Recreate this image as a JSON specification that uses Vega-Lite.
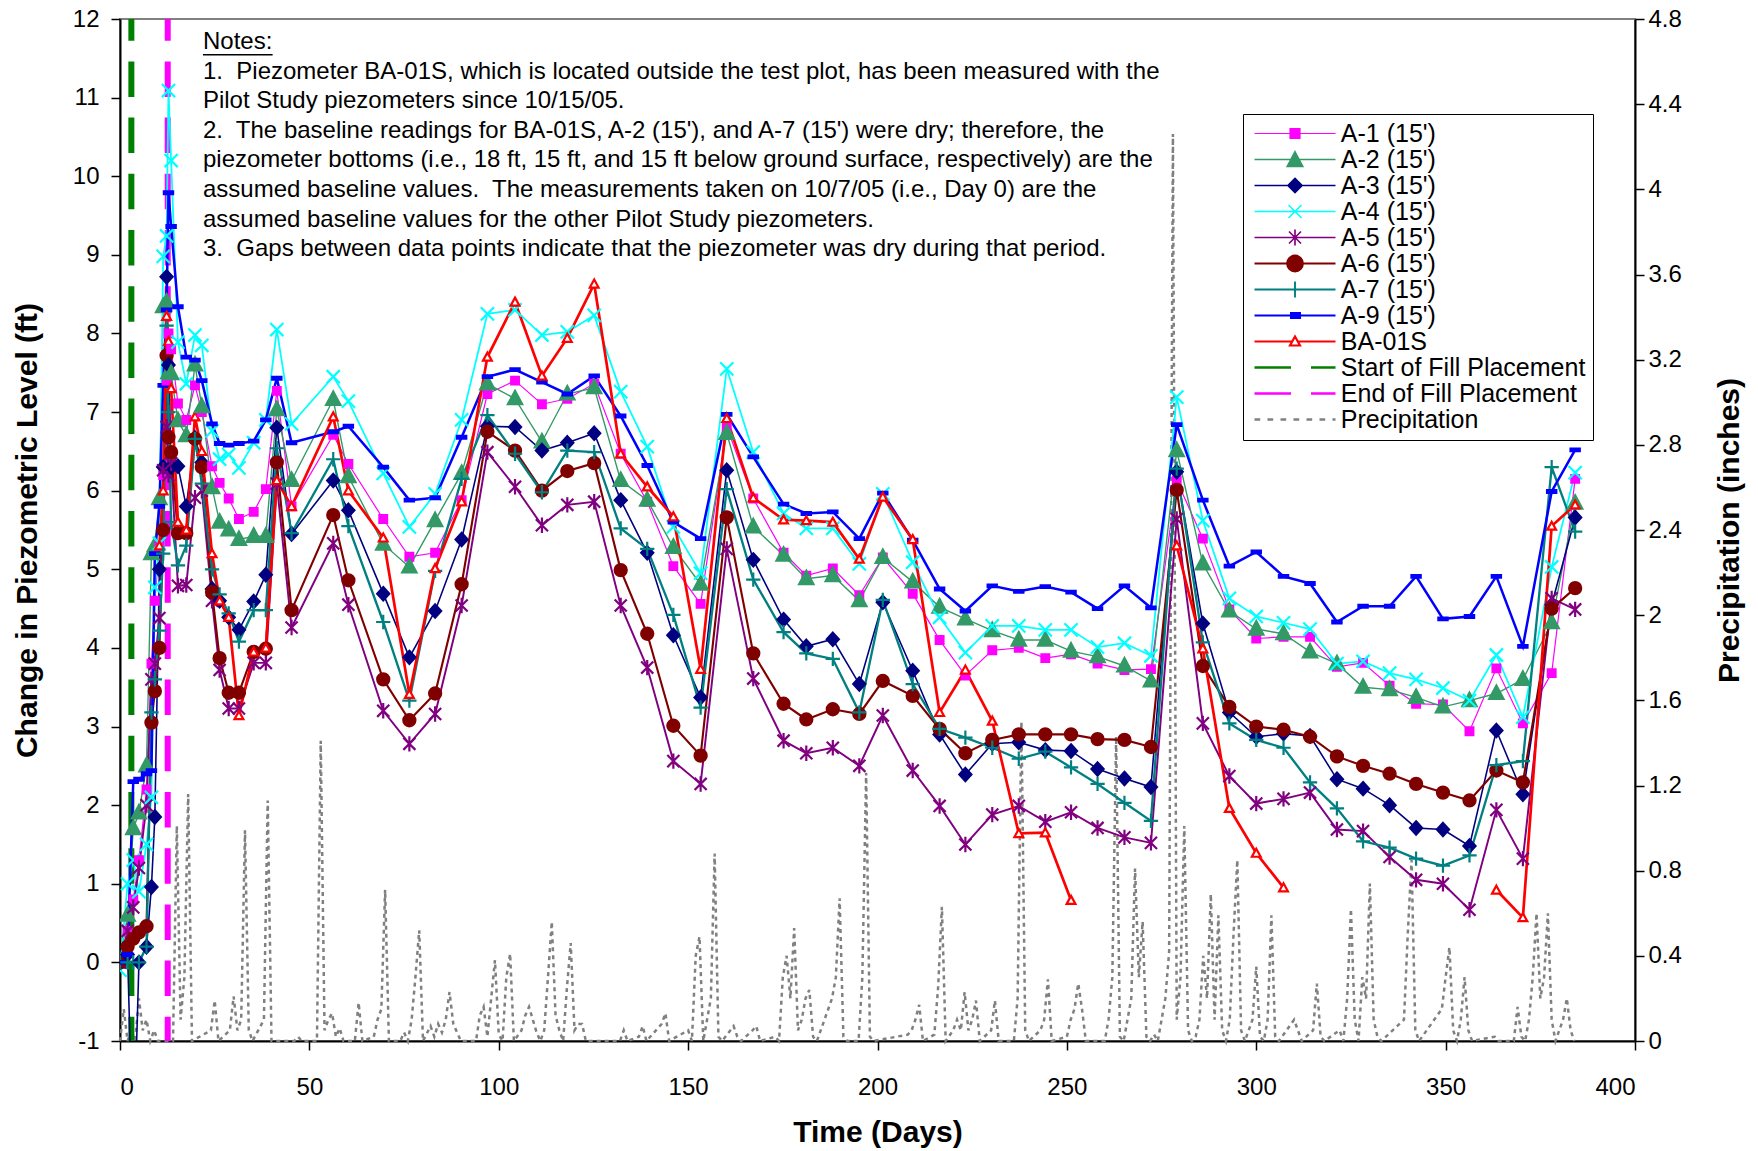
{
  "$schema": "https://vega.github.io/schema/vega-lite/v6.json",
  "width": 1515,
  "height": 1022,
  "autosize": {"type": "none"},
  "padding": {"left": 120, "top": 19, "right": 123, "bottom": 110},
  "background": "white",
  "config": {
    "font": "Liberation Sans",
    "view": {"stroke": "#808080", "strokeWidth": 2},
    "axis": {
      "grid": false, "domainColor": "#000000", "tickColor": "#000000", "labelColor": "#000000", "titleColor": "#000000",
      "labelFont": "Liberation Sans", "titleFont": "Liberation Sans", "labelFontSize": 24, "titleFontSize": 30,
      "titleFontWeight": "bold", "tickSize": 9, "domainWidth": 2, "tickWidth": 1.5
    }
  },
  "datasets": {
    "piezo": [
      {"day":0,"A1":0,"A2":0,"A3":0,"A4":-0.1,"A5":0,"A6":0,"A7":0,"A9":0,"BA":null},
      {"day":2,"A1":0.4,"A2":0.6,"A3":0.1,"A4":1.0,"A5":0.4,"A6":0.2,"A7":0,"A9":0.1,"BA":null},
      {"day":3.5,"A1":0.8,"A2":1.7,"A3":-2.5,"A4":1.3,"A5":0.7,"A6":0.3,"A7":0,"A9":2.3,"BA":null},
      {"day":5,"A1":1.3,"A2":1.9,"A3":0.0,"A4":0.9,"A5":1.2,"A6":0.38,"A7":0,"A9":2.33,"BA":null},
      {"day":7,"A1":2.2,"A2":2.5,"A3":0.2,"A4":1.5,"A5":2.0,"A6":0.46,"A7":0.2,"A9":2.4,"BA":null},
      {"day":8.3,"A1":3.8,"A2":5.2,"A3":0.96,"A4":2.1,"A5":3.6,"A6":3.05,"A7":3.18,"A9":2.44,"BA":null},
      {"day":9.2,"A1":4.6,"A2":5.3,"A3":1.85,"A4":4.77,"A5":3.8,"A6":3.45,"A7":3.6,"A9":5.2,"BA":null},
      {"day":10.4,"A1":5.3,"A2":5.9,"A3":5.0,"A4":5.33,"A5":4.38,"A6":4.0,"A7":4.22,"A9":5.8,"BA":5.3},
      {"day":11.4,"A1":6.2,"A2":8.34,"A3":6.3,"A4":8.98,"A5":6.26,"A6":5.5,"A7":5.2,"A9":7.34,"BA":6.0},
      {"day":12.3,"A1":7.4,"A2":8.4,"A3":8.72,"A4":9.24,"A5":6.81,"A6":7.72,"A7":8.1,"A9":8.3,"BA":8.22},
      {"day":12.8,"A1":8.0,"A2":7.5,"A3":7.6,"A4":11.09,"A5":6.2,"A6":6.68,"A7":7.0,"A9":9.79,"BA":7.9},
      {"day":13.5,"A1":7.8,"A2":7.49,"A3":6.3,"A4":10.2,"A5":6.35,"A6":6.49,"A7":5.6,"A9":9.36,"BA":7.3},
      {"day":15.3,"A1":7.11,"A2":6.89,"A3":6.31,"A4":7.89,"A5":4.79,"A6":5.46,"A7":5.05,"A9":8.34,"BA":5.6},
      {"day":17.5,"A1":6.9,"A2":6.7,"A3":5.8,"A4":7.36,"A5":4.8,"A6":5.46,"A7":5.3,"A9":7.7,"BA":5.5},
      {"day":19.8,"A1":7.34,"A2":7.6,"A3":6.67,"A4":7.98,"A5":5.91,"A6":6.66,"A7":6.66,"A9":7.66,"BA":6.94},
      {"day":21.6,"A1":7.0,"A2":7.07,"A3":6.36,"A4":7.85,"A5":6.0,"A6":6.3,"A7":6.09,"A9":7.4,"BA":6.5},
      {"day":24.3,"A1":6.31,"A2":6.04,"A3":4.75,"A4":6.76,"A5":4.6,"A6":4.71,"A7":5.0,"A9":6.85,"BA":5.2},
      {"day":26.3,"A1":6.1,"A2":5.6,"A3":4.6,"A4":6.4,"A5":3.72,"A6":3.87,"A7":4.68,"A9":6.6,"BA":4.6},
      {"day":28.7,"A1":5.9,"A2":5.5,"A3":4.39,"A4":6.46,"A5":3.23,"A6":3.43,"A7":4.44,"A9":6.58,"BA":4.39},
      {"day":31.4,"A1":5.64,"A2":5.38,"A3":4.23,"A4":6.29,"A5":3.23,"A6":3.43,"A7":4.08,"A9":6.6,"BA":3.14},
      {"day":35.3,"A1":5.73,"A2":5.42,"A3":4.59,"A4":6.61,"A5":3.81,"A6":3.95,"A7":4.48,"A9":6.63,"BA":3.95},
      {"day":38.5,"A1":6.02,"A2":5.42,"A3":4.93,"A4":6.9,"A5":3.81,"A6":3.99,"A7":4.48,"A9":6.9,"BA":4.0},
      {"day":41.4,"A1":7.27,"A2":7.03,"A3":6.8,"A4":8.05,"A5":6.09,"A6":6.36,"A7":6.54,"A9":7.43,"BA":6.13},
      {"day":45.3,"A1":5.8,"A2":6.13,"A3":5.45,"A4":6.85,"A5":4.26,"A6":4.48,"A7":5.46,"A9":6.61,"BA":5.8},
      {"day":56.3,"A1":6.71,"A2":7.16,"A3":6.13,"A4":7.45,"A5":5.33,"A6":5.69,"A7":6.4,"A9":6.75,"BA":6.94},
      {"day":60.3,"A1":6.34,"A2":6.18,"A3":5.75,"A4":7.14,"A5":4.55,"A6":4.86,"A7":5.55,"A9":6.82,"BA":6.0},
      {"day":69.5,"A1":5.64,"A2":5.32,"A3":4.69,"A4":6.22,"A5":3.2,"A6":3.6,"A7":4.33,"A9":6.3,"BA":5.4},
      {"day":76.4,"A1":5.16,"A2":5.03,"A3":3.88,"A4":5.54,"A5":2.78,"A6":3.08,"A7":3.33,"A9":5.88,"BA":3.41},
      {"day":83.2,"A1":5.21,"A2":5.62,"A3":4.47,"A4":5.96,"A5":3.16,"A6":3.42,"A7":4.98,"A9":5.91,"BA":5.01},
      {"day":90.2,"A1":5.88,"A2":6.22,"A3":5.38,"A4":6.9,"A5":4.54,"A6":4.81,"A7":6.15,"A9":6.68,"BA":5.86},
      {"day":97,"A1":7.23,"A2":7.36,"A3":6.82,"A4":8.25,"A5":6.49,"A6":6.75,"A7":6.96,"A9":7.45,"BA":7.7},
      {"day":104.3,"A1":7.4,"A2":7.17,"A3":6.81,"A4":8.3,"A5":6.05,"A6":6.51,"A7":6.47,"A9":7.54,"BA":8.4},
      {"day":111.4,"A1":7.1,"A2":6.62,"A3":6.51,"A4":7.98,"A5":5.56,"A6":6.0,"A7":5.98,"A9":7.38,"BA":7.46},
      {"day":118.1,"A1":7.17,"A2":7.23,"A3":6.61,"A4":8.02,"A5":5.82,"A6":6.25,"A7":6.51,"A9":7.23,"BA":7.94},
      {"day":125.2,"A1":7.36,"A2":7.31,"A3":6.73,"A4":8.23,"A5":5.86,"A6":6.35,"A7":6.49,"A9":7.46,"BA":8.63},
      {"day":132.2,"A1":6.47,"A2":6.13,"A3":5.88,"A4":7.26,"A5":4.54,"A6":4.99,"A7":5.52,"A9":6.95,"BA":6.47},
      {"day":139.2,"A1":5.86,"A2":5.88,"A3":5.21,"A4":6.56,"A5":3.75,"A6":4.18,"A7":5.26,"A9":6.32,"BA":6.05},
      {"day":146.1,"A1":5.04,"A2":5.28,"A3":4.16,"A4":5.54,"A5":2.56,"A6":3.01,"A7":4.42,"A9":5.6,"BA":5.67},
      {"day":153.3,"A1":4.56,"A2":4.81,"A3":3.37,"A4":4.95,"A5":2.27,"A6":2.63,"A7":3.24,"A9":5.39,"BA":3.73},
      {"day":160.2,"A1":6.81,"A2":6.73,"A3":6.26,"A4":7.55,"A5":5.26,"A6":5.66,"A7":6.02,"A9":6.97,"BA":6.92},
      {"day":167.2,"A1":5.9,"A2":5.54,"A3":5.12,"A4":6.49,"A5":3.61,"A6":3.93,"A7":4.87,"A9":6.43,"BA":5.91},
      {"day":175.2,"A1":5.21,"A2":5.18,"A3":4.36,"A4":5.71,"A5":2.82,"A6":3.29,"A7":4.2,"A9":5.83,"BA":5.63},
      {"day":181.2,"A1":4.92,"A2":4.88,"A3":4.02,"A4":5.52,"A5":2.66,"A6":3.09,"A7":3.93,"A9":5.71,"BA":5.62},
      {"day":188.2,"A1":5.01,"A2":4.92,"A3":4.11,"A4":5.52,"A5":2.73,"A6":3.22,"A7":3.86,"A9":5.73,"BA":5.6},
      {"day":195.2,"A1":4.67,"A2":4.6,"A3":3.54,"A4":5.07,"A5":2.5,"A6":3.16,"A7":3.18,"A9":5.39,"BA":5.13},
      {"day":201.4,"A1":5.15,"A2":5.15,"A3":4.58,"A4":5.96,"A5":3.14,"A6":3.58,"A7":4.61,"A9":5.97,"BA":5.92},
      {"day":209.3,"A1":4.69,"A2":4.84,"A3":3.71,"A4":5.09,"A5":2.44,"A6":3.39,"A7":3.54,"A9":5.37,"BA":5.38},
      {"day":216.4,"A1":4.1,"A2":4.52,"A3":2.9,"A4":4.39,"A5":1.99,"A6":2.97,"A7":2.97,"A9":4.75,"BA":3.18},
      {"day":223.2,"A1":3.65,"A2":4.37,"A3":2.39,"A4":3.94,"A5":1.5,"A6":2.66,"A7":2.86,"A9":4.47,"BA":3.72},
      {"day":230.3,"A1":3.97,"A2":4.22,"A3":2.78,"A4":4.28,"A5":1.88,"A6":2.83,"A7":2.73,"A9":4.79,"BA":3.07},
      {"day":237.3,"A1":4.0,"A2":4.1,"A3":2.8,"A4":4.28,"A5":1.99,"A6":2.9,"A7":2.59,"A9":4.72,"BA":1.64},
      {"day":244.3,"A1":3.87,"A2":4.1,"A3":2.7,"A4":4.23,"A5":1.79,"A6":2.9,"A7":2.68,"A9":4.78,"BA":1.65},
      {"day":251.1,"A1":3.92,"A2":3.96,"A3":2.69,"A4":4.23,"A5":1.91,"A6":2.9,"A7":2.48,"A9":4.71,"BA":0.79},
      {"day":258.1,"A1":3.8,"A2":3.89,"A3":2.46,"A4":4.01,"A5":1.71,"A6":2.84,"A7":2.27,"A9":4.5,"BA":null},
      {"day":265.2,"A1":3.72,"A2":3.77,"A3":2.34,"A4":4.06,"A5":1.59,"A6":2.83,"A7":2.03,"A9":4.79,"BA":null},
      {"day":272.2,"A1":3.73,"A2":3.58,"A3":2.23,"A4":3.9,"A5":1.52,"A6":2.74,"A7":1.8,"A9":4.51,"BA":null},
      {"day":279,"A1":6.13,"A2":6.51,"A3":6.24,"A4":7.19,"A5":5.64,"A6":6.01,"A7":6.28,"A9":6.84,"BA":5.3},
      {"day":285.9,"A1":5.39,"A2":5.07,"A3":4.31,"A4":5.62,"A5":3.04,"A6":3.77,"A7":4.07,"A9":5.88,"BA":3.99},
      {"day":292.9,"A1":4.49,"A2":4.47,"A3":3.18,"A4":4.63,"A5":2.37,"A6":3.25,"A7":3.04,"A9":5.04,"BA":1.96},
      {"day":300,"A1":4.12,"A2":4.24,"A3":2.87,"A4":4.4,"A5":2.02,"A6":3.0,"A7":2.83,"A9":5.22,"BA":1.39},
      {"day":307.2,"A1":4.14,"A2":4.18,"A3":2.91,"A4":4.32,"A5":2.08,"A6":2.96,"A7":2.73,"A9":4.91,"BA":0.95},
      {"day":314.2,"A1":4.14,"A2":3.95,"A3":2.88,"A4":4.24,"A5":2.16,"A6":2.87,"A7":2.29,"A9":4.82,"BA":null},
      {"day":321.3,"A1":3.76,"A2":3.8,"A3":2.33,"A4":3.8,"A5":1.69,"A6":2.62,"A7":1.96,"A9":4.33,"BA":null},
      {"day":328.2,"A1":3.81,"A2":3.5,"A3":2.21,"A4":3.83,"A5":1.67,"A6":2.5,"A7":1.54,"A9":4.53,"BA":null},
      {"day":335.2,"A1":3.52,"A2":3.47,"A3":2.0,"A4":3.68,"A5":1.34,"A6":2.4,"A7":1.46,"A9":4.53,"BA":null},
      {"day":342.2,"A1":3.29,"A2":3.37,"A3":1.71,"A4":3.6,"A5":1.05,"A6":2.27,"A7":1.32,"A9":4.91,"BA":null},
      {"day":349.3,"A1":3.28,"A2":3.25,"A3":1.69,"A4":3.49,"A5":1.0,"A6":2.16,"A7":1.23,"A9":4.37,"BA":null},
      {"day":356.3,"A1":2.94,"A2":3.33,"A3":1.48,"A4":3.33,"A5":0.67,"A6":2.06,"A7":1.36,"A9":4.4,"BA":null},
      {"day":363.4,"A1":3.74,"A2":3.42,"A3":2.95,"A4":3.91,"A5":1.94,"A6":2.44,"A7":2.51,"A9":4.91,"BA":0.92},
      {"day":370.4,"A1":3.04,"A2":3.6,"A3":2.14,"A4":3.12,"A5":1.32,"A6":2.29,"A7":2.56,"A9":4.02,"BA":0.57},
      {"day":378,"A1":3.68,"A2":4.32,"A3":4.55,"A4":5.03,"A5":4.63,"A6":4.5,"A7":6.3,"A9":5.99,"BA":5.55},
      {"day":384.2,"A1":6.15,"A2":5.84,"A3":5.66,"A4":6.23,"A5":4.49,"A6":4.76,"A7":5.48,"A9":6.52,"BA":5.82}
    ],
    "precip": [
      {"day":0,"precip":0},{"day":1,"precip":0.15},{"day":2,"precip":0},{"day":3,"precip":0.05},{"day":4,"precip":0},{"day":5,"precip":0.2},{"day":6,"precip":0.05},{"day":7,"precip":0.1},{"day":8,"precip":0},{"day":9,"precip":0.05},{"day":10,"precip":0},
      {"day":14,"precip":0},{"day":15,"precip":1.01},{"day":16,"precip":0.1},{"day":17,"precip":0.3},{"day":18,"precip":1.16},{"day":19,"precip":0},
      {"day":24,"precip":0.05},{"day":25,"precip":0.19},{"day":26,"precip":0},{"day":29,"precip":0.05},{"day":30,"precip":0.21},{"day":31,"precip":0.05},{"day":32,"precip":0.1},{"day":33,"precip":0.99},{"day":34,"precip":0.05},{"day":35,"precip":0},
      {"day":38,"precip":0.1},{"day":39,"precip":1.13},{"day":40,"precip":0},{"day":46,"precip":0},{"day":47,"precip":0.02},{"day":48,"precip":0},{"day":52,"precip":0},{"day":53,"precip":1.41},{"day":54,"precip":0.05},{"day":55,"precip":0.1},{"day":56,"precip":0.13},{"day":57,"precip":0.02},{"day":58,"precip":0.06},{"day":59,"precip":0},
      {"day":62,"precip":0},{"day":63,"precip":0.18},{"day":64,"precip":0},{"day":67,"precip":0.02},{"day":68,"precip":0.1},{"day":69,"precip":0.15},{"day":70,"precip":0.71},{"day":71,"precip":0},
      {"day":74,"precip":0},{"day":75,"precip":0.04},{"day":76,"precip":0},{"day":77,"precip":0.1},{"day":78,"precip":0.3},{"day":79,"precip":0.52},{"day":80,"precip":0},
      {"day":82,"precip":0.07},{"day":83,"precip":0.02},{"day":84,"precip":0.08},{"day":85,"precip":0.04},{"day":86,"precip":0.1},{"day":87,"precip":0.23},{"day":88,"precip":0.08},{"day":89,"precip":0.04},{"day":90,"precip":0},
      {"day":94,"precip":0},{"day":95,"precip":0.12},{"day":96,"precip":0.16},{"day":97,"precip":0.02},{"day":98,"precip":0.2},{"day":99,"precip":0.38},{"day":100,"precip":0.03},{"day":101,"precip":0},{"day":102,"precip":0.3},{"day":103,"precip":0.41},{"day":104,"precip":0},
      {"day":106,"precip":0.05},{"day":107,"precip":0.12},{"day":108,"precip":0.16},{"day":109,"precip":0.1},{"day":110,"precip":0.04},{"day":111,"precip":0},{"day":112,"precip":0.05},{"day":113,"precip":0.3},{"day":114,"precip":0.56},{"day":115,"precip":0.12},{"day":116,"precip":0.05},{"day":117,"precip":0},
      {"day":118,"precip":0.25},{"day":119,"precip":0.46},{"day":120,"precip":0.05},{"day":121,"precip":0.08},{"day":122,"precip":0.08},{"day":123,"precip":0},
      {"day":132,"precip":0},{"day":133,"precip":0.05},{"day":134,"precip":0},{"day":137,"precip":0.02},{"day":138,"precip":0.07},{"day":139,"precip":0},{"day":143,"precip":0.08},{"day":144,"precip":0.13},{"day":145,"precip":0},
      {"day":150,"precip":0.05},{"day":151,"precip":0},{"day":152,"precip":0.4},{"day":153,"precip":0.49},{"day":154,"precip":0},{"day":156,"precip":0.2},{"day":157,"precip":0.88},{"day":158,"precip":0.02},{"day":159,"precip":0},
      {"day":162,"precip":0.07},{"day":163,"precip":0.02},{"day":164,"precip":0},{"day":167,"precip":0.05},{"day":168,"precip":0.07},{"day":169,"precip":0},
      {"day":173,"precip":0.02},{"day":174,"precip":0},{"day":175,"precip":0.3},{"day":176,"precip":0.4},{"day":177,"precip":0.2},{"day":178,"precip":0.53},{"day":179,"precip":0.05},{"day":180,"precip":0.1},{"day":181,"precip":0.2},{"day":182,"precip":0.24},{"day":183,"precip":0.02},{"day":184,"precip":0},
      {"day":188,"precip":0.2},{"day":189,"precip":0.3},{"day":190,"precip":0.67},{"day":191,"precip":0.02},{"day":192,"precip":0},{"day":195,"precip":0},{"day":196,"precip":0.3},{"day":197,"precip":1.26},{"day":198,"precip":0.02},{"day":199,"precip":0},
      {"day":208,"precip":0.03},{"day":209,"precip":0.05},{"day":210,"precip":0.1},{"day":211,"precip":0.17},{"day":212,"precip":0},{"day":215,"precip":0.03},{"day":216,"precip":0.25},{"day":217,"precip":0.63},{"day":218,"precip":0},
      {"day":220,"precip":0.05},{"day":221,"precip":0.1},{"day":222,"precip":0.05},{"day":223,"precip":0.23},{"day":224,"precip":0.05},{"day":225,"precip":0.1},{"day":226,"precip":0.19},{"day":227,"precip":0},
      {"day":230,"precip":0.05},{"day":231,"precip":0.19},{"day":232,"precip":0},{"day":236,"precip":0},{"day":237,"precip":0.2},{"day":238,"precip":1.5},{"day":239,"precip":0.05},{"day":240,"precip":0},
      {"day":243,"precip":0.05},{"day":244,"precip":0.1},{"day":245,"precip":0.29},{"day":246,"precip":0},{"day":250,"precip":0.02},{"day":251,"precip":0.1},{"day":252,"precip":0.15},{"day":253,"precip":0.27},{"day":254,"precip":0.15},{"day":255,"precip":0},
      {"day":260,"precip":0},{"day":261,"precip":0.1},{"day":262,"precip":0.3},{"day":263,"precip":1.43},{"day":264,"precip":0.02},{"day":265,"precip":0},{"day":266,"precip":0.1},{"day":267,"precip":0.2},{"day":268,"precip":0.81},{"day":269,"precip":0.3},{"day":270,"precip":0.56},{"day":271,"precip":0.02},{"day":272,"precip":0},
      {"day":273,"precip":0.03},{"day":274,"precip":0},{"day":275,"precip":0.1},{"day":276,"precip":0.2},{"day":277,"precip":0.42},{"day":278,"precip":4.26},{"day":279,"precip":0.1},{"day":280,"precip":0.3},{"day":281,"precip":1.01},{"day":282,"precip":0.05},{"day":283,"precip":0},
      {"day":284,"precip":0.02},{"day":285,"precip":0.1},{"day":286,"precip":0.4},{"day":287,"precip":0.2},{"day":288,"precip":0.69},{"day":289,"precip":0.1},{"day":290,"precip":0.59},{"day":291,"precip":0.05},{"day":292,"precip":0},
      {"day":293,"precip":0.1},{"day":294,"precip":0.5},{"day":295,"precip":0.85},{"day":296,"precip":0.05},{"day":297,"precip":0},{"day":299,"precip":0.1},{"day":300,"precip":0.35},{"day":301,"precip":0.02},{"day":302,"precip":0},
      {"day":303,"precip":0.1},{"day":304,"precip":0.59},{"day":305,"precip":0.02},{"day":306,"precip":0},{"day":310,"precip":0.1},{"day":311,"precip":0.05},{"day":312,"precip":0},{"day":315,"precip":0.05},{"day":316,"precip":0.27},{"day":317,"precip":0.02},{"day":318,"precip":0},
      {"day":322,"precip":0.05},{"day":323,"precip":0},{"day":324,"precip":0.2},{"day":325,"precip":0.62},{"day":326,"precip":0.1},{"day":327,"precip":0},{"day":328,"precip":0.3},{"day":329,"precip":0.2},{"day":330,"precip":0.74},{"day":331,"precip":0.1},{"day":332,"precip":0.02},{"day":333,"precip":0},
      {"day":339,"precip":0.1},{"day":340,"precip":0.5},{"day":341,"precip":0.85},{"day":342,"precip":0.05},{"day":343,"precip":0},{"day":349,"precip":0.15},{"day":350,"precip":0.3},{"day":351,"precip":0.44},{"day":352,"precip":0.05},{"day":353,"precip":0},
      {"day":354,"precip":0.1},{"day":355,"precip":0.3},{"day":356,"precip":0.05},{"day":357,"precip":0},{"day":363,"precip":0.02},{"day":364,"precip":0},{"day":368,"precip":0},{"day":369,"precip":0.16},{"day":370,"precip":0.02},{"day":371,"precip":0},
      {"day":372,"precip":0.1},{"day":373,"precip":0.3},{"day":374,"precip":0.6},{"day":375,"precip":0.2},{"day":376,"precip":0.3},{"day":377,"precip":0.6},{"day":378,"precip":0.1},{"day":379,"precip":0},{"day":380,"precip":0.05},{"day":381,"precip":0.1},{"day":382,"precip":0.2},{"day":383,"precip":0.05},{"day":384,"precip":0}
    ],
    "legendkeys": [
      {"key": "A-1 (15')"}, {"key": "A-2 (15')"}, {"key": "A-3 (15')"}, {"key": "A-4 (15')"}, {"key": "A-5 (15')"}, {"key": "A-6 (15')"},
      {"key": "A-7 (15')"}, {"key": "A-9 (15')"}, {"key": "BA-01S"}, {"key": "Start of Fill Placement"}, {"key": "End of Fill Placement"}, {"key": "Precipitation"}
    ]
  },
  "layer": [
    {
      "data": {"name": "precip"},
      "mark": {"type": "line", "color": "#808080", "strokeWidth": 2.5, "strokeDash": [4, 4]},
      "encoding": {
        "x": {"field": "day", "type": "quantitative", "scale": {"domain": [0, 400], "nice": false},
          "axis": {"values": [0, 50, 100, 150, 200, 250, 300, 350, 400], "format": "d", "title": "Time (Days)", "labelPadding": 25, "titlePadding": 18}},
        "y": {"field": "precip", "type": "quantitative", "scale": {"domain": [0, 4.8], "nice": false},
          "axis": {"orient": "right", "values": [0, 0.4, 0.8, 1.2, 1.6, 2, 2.4, 2.8, 3.2, 3.6, 4, 4.4, 4.8], "format": ".1~f",
            "title": "Precipitation (inches)", "labelPadding": 4, "titlePadding": 33, "titleAngle": 270, "titleBaseline": "top"}}
      }
    },
    {
      "layer": [
        {
          "data": {"values": [{}]},
          "mark": {"type": "rule", "color": "#008000", "strokeWidth": 6, "strokeDash": [35.5, 20.7], "strokeDashOffset": 13.8},
          "encoding": {"x": {"datum": 3, "type": "quantitative", "scale": {"domain": [0, 400], "nice": false},
            "axis": {"values": [0, 50, 100, 150, 200, 250, 300, 350, 400], "format": "d", "title": "Time (Days)", "labelPadding": 25, "titlePadding": 18}}}
        },
        {
          "data": {"values": [{}]},
          "mark": {"type": "rule", "color": "#FF00FF", "strokeWidth": 6, "strokeDash": [35.5, 20.7], "strokeDashOffset": 13.8},
          "encoding": {"x": {"datum": 12.6, "type": "quantitative", "scale": {"domain": [0, 400], "nice": false},
            "axis": {"values": [0, 50, 100, 150, 200, 250, 300, 350, 400], "format": "d", "title": "Time (Days)", "labelPadding": 25, "titlePadding": 18}}}
        },
        {
          "data": {"name": "piezo"},
          "transform": [{"fold": ["A1", "A2", "A3", "A4", "A5", "A6", "A7", "A9", "BA"], "as": ["series", "level"]}],
          "mark": {"type": "line", "invalid": "break-paths-show-domains", "clip": true},
          "encoding": {
            "x": {"field": "day", "type": "quantitative", "scale": {"domain": [0, 400], "nice": false},
              "axis": {"values": [0, 50, 100, 150, 200, 250, 300, 350, 400], "format": "d", "title": "Time (Days)", "labelPadding": 25, "titlePadding": 18}},
            "y": {"field": "level", "type": "quantitative", "scale": {"domain": [-1, 12], "nice": false},
              "axis": {"values": [-1, 0, 1, 2, 3, 4, 5, 6, 7, 8, 9, 10, 11, 12], "labelExpr": "'' + datum.value", "title": "Change in Piezometric Level (ft)", "labelPadding": 12, "titlePadding": 30}},
            "stroke": {"field": "series", "type": "nominal",
              "scale": {"domain": ["A1", "A2", "A3", "A4", "A5", "A6", "A7", "A9", "BA"],
                "range": ["#FF00FF", "#339966", "#000080", "#00FFFF", "#800080", "#800000", "#008080", "#0000FF", "#FF0000"]}, "legend": null},
            "strokeWidth": {"field": "series", "type": "ordinal",
              "scale": {"domain": ["A1", "A2", "A3", "A4", "A5", "A6", "A7", "A9", "BA"], "range": [1.2, 2.7, 2.7, 2.8, 2.5, 2.8, 2.4, 2.8, 2.4]}, "legend": null}
          }
        },
        {
          "data": {"name": "piezo"},
          "transform": [{"fold": ["A1", "A2", "A3", "A4", "A5", "A6", "A7", "A9", "BA"], "as": ["series", "level"]}],
          "mark": {"type": "point", "strokeWidth": 2.2, "opacity": 1, "size": 484, "clip": true},
          "encoding": {
            "x": {"field": "day", "type": "quantitative", "scale": {"domain": [0, 400], "nice": false},
              "axis": {"values": [0, 50, 100, 150, 200, 250, 300, 350, 400], "format": "d", "title": "Time (Days)", "labelPadding": 25, "titlePadding": 18}},
            "y": {"field": "level", "type": "quantitative", "scale": {"domain": [-1, 12], "nice": false},
              "axis": {"values": [-1, 0, 1, 2, 3, 4, 5, 6, 7, 8, 9, 10, 11, 12], "labelExpr": "'' + datum.value", "title": "Change in Piezometric Level (ft)", "labelPadding": 12, "titlePadding": 30}},
            "stroke": {"field": "series", "type": "nominal",
              "scale": {"domain": ["A1", "A2", "A3", "A4", "A5", "A6", "A7", "A9", "BA"],
                "range": ["#FF00FF", "#339966", "#000080", "#00FFFF", "#800080", "#800000", "#008080", "#0000FF", "#FF0000"]}, "legend": null},
            "fill": {"field": "series", "type": "nominal",
              "scale": {"domain": ["A1", "A2", "A3", "A4", "A5", "A6", "A7", "A9", "BA"],
                "range": ["#FF00FF", "#339966", "#000080", "transparent", "transparent", "#800000", "transparent", "#0000FF", "#FFFFFF"]}, "legend": null},
            "shape": {"field": "series", "type": "nominal",
              "scale": {"domain": ["A1", "A2", "A3", "A4", "A5", "A6", "A7", "A9", "BA"],
                "range": [
                  "M-0.35,-0.35H0.35V0.35H-0.35Z",
                  "M0,-0.72L0.65,0.5H-0.65Z",
                  "M0,-0.6L0.55,0L0,0.6L-0.55,0Z",
                  "M-0.6,-0.6L0.6,0.6M-0.6,0.6L0.6,-0.6",
                  "M-0.55,-0.55L0.55,0.55M-0.55,0.55L0.55,-0.55M0,-0.7V0.7",
                  "M-0.55,0A0.55,0.55,0,1,0,0.55,0A0.55,0.55,0,1,0,-0.55,0Z",
                  "M-0.65,0H0.65M0,-0.65V0.65",
                  "M-0.42,-0.12H0.42V0.12H-0.42Z",
                  "M0,-0.4L0.4,0.33H-0.4Z"
                ]}, "legend": null}
          }
        },
        {
          "data": {"values": [{}]},
          "mark": {"type": "text", "align": "left", "baseline": "top", "fontSize": 24, "lineHeight": 29.6, "font": "Liberation Sans", "color": "#000000",
            "text": [
              "Notes:",
              "1.\u00a0 Piezometer BA-01S, which is located outside the test plot, has been measured with the",
              "Pilot Study piezometers since 10/15/05.",
              "2.\u00a0 The baseline readings for BA-01S, A-2 (15'), and A-7 (15') were dry; therefore, the",
              "piezometer bottoms (i.e., 18 ft, 15 ft, and 15 ft below ground surface, respectively) are the",
              "assumed baseline values.\u00a0 The measurements taken on 10/7/05 (i.e., Day 0) are the",
              "assumed baseline values for the other Pilot Study piezometers.",
              "3.\u00a0 Gaps between data points indicate that the piezometer was dry during that period."
            ]},
          "encoding": {
            "x": {"datum": 21.9, "type": "quantitative", "scale": {"domain": [0, 400], "nice": false},
              "axis": {"values": [0, 50, 100, 150, 200, 250, 300, 350, 400], "format": "d", "title": "Time (Days)", "labelPadding": 25, "titlePadding": 18}},
            "y": {"datum": 11.86, "type": "quantitative", "scale": {"domain": [-1, 12], "nice": false},
              "axis": {"values": [-1, 0, 1, 2, 3, 4, 5, 6, 7, 8, 9, 10, 11, 12], "labelExpr": "'' + datum.value", "title": "Change in Piezometric Level (ft)", "labelPadding": 12, "titlePadding": 30}}
          }
        },
        {
          "data": {"values": [{}]},
          "mark": {"type": "rule", "color": "#000000", "strokeWidth": 1.5},
          "encoding": {
            "x": {"datum": 21.9, "type": "quantitative", "scale": {"domain": [0, 400], "nice": false},
              "axis": {"values": [0, 50, 100, 150, 200, 250, 300, 350, 400], "format": "d", "title": "Time (Days)", "labelPadding": 25, "titlePadding": 18}},
            "x2": {"datum": 40.3},
            "y": {"datum": 11.545, "type": "quantitative", "scale": {"domain": [-1, 12], "nice": false},
              "axis": {"values": [-1, 0, 1, 2, 3, 4, 5, 6, 7, 8, 9, 10, 11, 12], "labelExpr": "'' + datum.value", "title": "Change in Piezometric Level (ft)", "labelPadding": 12, "titlePadding": 30}}
          }
        },
        {
          "data": {"name": "legendkeys"},
          "mark": {"type": "point", "clip": true, "opacity": 1},
          "encoding": {
            "x": {"datum": -100, "type": "quantitative", "scale": {"domain": [0, 400], "nice": false},
              "axis": {"values": [0, 50, 100, 150, 200, 250, 300, 350, 400], "format": "d", "title": "Time (Days)", "labelPadding": 25, "titlePadding": 18}},
            "y": {"datum": 0, "type": "quantitative", "scale": {"domain": [-1, 12], "nice": false},
              "axis": {"values": [-1, 0, 1, 2, 3, 4, 5, 6, 7, 8, 9, 10, 11, 12], "labelExpr": "'' + datum.value", "title": "Change in Piezometric Level (ft)", "labelPadding": 12, "titlePadding": 30}},
            "shape": {"field": "key", "type": "nominal",
              "scale": {
                "domain": ["A-1 (15')", "A-2 (15')", "A-3 (15')", "A-4 (15')", "A-5 (15')", "A-6 (15')", "A-7 (15')", "A-9 (15')", "BA-01S", "Start of Fill Placement", "End of Fill Placement", "Precipitation"],
                "range": [
                  "M-4.05,0H4.05M-0.5,-0.5H0.5V0.5H-0.5Z",
                  "M-4.05,0H4.05M0,-0.8L0.8,0.7H-0.8Z",
                  "M-4.05,0H4.05M0,-0.72L0.72,0L0,0.72L-0.72,0Z",
                  "M-4.05,0H4.05M-0.65,-0.65L0.65,0.65M-0.65,0.65L0.65,-0.65",
                  "M-4.05,0H4.05M-0.6,-0.6L0.6,0.6M-0.6,0.6L0.6,-0.6M0,-0.8V0.8",
                  "M-4.05,0H4.05M-0.8,0A0.8,0.8,0,1,0,0.8,0A0.8,0.8,0,1,0,-0.8,0Z",
                  "M-4.05,0H4.05M0,-0.8V0.8",
                  "M-4.05,0H4.05M-0.4,-0.25H0.5V0.25H-0.4Z",
                  "M-4.05,0H-0.3M0.3,0H4.05M0,-0.5L0.5,0.4H-0.5Z",
                  "M-4.05,0H-0.4M1.6,0H4.05",
                  "M-4.05,0H-0.4M1.6,0H4.05",
                  "M-4.05,0H-3.48M-2.75,0H-2.18M-1.45,0H-0.88M-0.15,0H0.42M1.15,0H1.72M2.45,0H3.02M3.75,0H4.05"
                ]},
              "legend": {"title": null, "orient": "none", "legendX": 1123, "legendY": 95, "symbolSize": 400, "labelFontSize": 25, "labelFont": "Liberation Sans", "labelColor": "#000000",
                "labelOffset": 33.3, "rowPadding": -2, "padding": 7, "symbolOffset": 32.5, "labelLimit": 400, "strokeColor": "#000000", "fillColor": "#FFFFFF", "symbolOpacity": 1}},
            "stroke": {"field": "key", "type": "nominal",
              "scale": {
                "domain": ["A-1 (15')", "A-2 (15')", "A-3 (15')", "A-4 (15')", "A-5 (15')", "A-6 (15')", "A-7 (15')", "A-9 (15')", "BA-01S", "Start of Fill Placement", "End of Fill Placement", "Precipitation"],
                "range": ["#FF00FF", "#339966", "#000080", "#00FFFF", "#800080", "#800000", "#008080", "#0000FF", "#FF0000", "#008000", "#FF00FF", "#808080"]},
              "legend": {"title": null, "orient": "none", "legendX": 1123, "legendY": 95, "symbolSize": 400, "labelFontSize": 25, "labelFont": "Liberation Sans", "labelColor": "#000000",
                "labelOffset": 33.3, "rowPadding": -2, "padding": 7, "symbolOffset": 32.5, "labelLimit": 400, "strokeColor": "#000000", "fillColor": "#FFFFFF", "symbolOpacity": 1}},
            "fill": {"field": "key", "type": "nominal",
              "scale": {
                "domain": ["A-1 (15')", "A-2 (15')", "A-3 (15')", "A-4 (15')", "A-5 (15')", "A-6 (15')", "A-7 (15')", "A-9 (15')", "BA-01S", "Start of Fill Placement", "End of Fill Placement", "Precipitation"],
                "range": ["#FF00FF", "#339966", "#000080", "transparent", "transparent", "#800000", "transparent", "#0000FF", "#FFFFFF", "transparent", "transparent", "transparent"]},
              "legend": {"title": null, "orient": "none", "legendX": 1123, "legendY": 95, "symbolSize": 400, "labelFontSize": 25, "labelFont": "Liberation Sans", "labelColor": "#000000",
                "labelOffset": 33.3, "rowPadding": -2, "padding": 7, "symbolOffset": 32.5, "labelLimit": 400, "strokeColor": "#000000", "fillColor": "#FFFFFF", "symbolOpacity": 1}},
            "strokeWidth": {"field": "key", "type": "ordinal",
              "scale": {
                "domain": ["A-1 (15')", "A-2 (15')", "A-3 (15')", "A-4 (15')", "A-5 (15')", "A-6 (15')", "A-7 (15')", "A-9 (15')", "BA-01S", "Start of Fill Placement", "End of Fill Placement", "Precipitation"],
                "range": [1.2, 2.5, 2.5, 2.5, 2.5, 2.5, 2.5, 2.5, 2.5, 6, 6, 2.5]},
              "legend": {"title": null, "orient": "none", "legendX": 1123, "legendY": 95, "symbolSize": 400, "labelFontSize": 25, "labelFont": "Liberation Sans", "labelColor": "#000000",
                "labelOffset": 33.3, "rowPadding": -2, "padding": 7, "symbolOffset": 32.5, "labelLimit": 400, "strokeColor": "#000000", "fillColor": "#FFFFFF", "symbolOpacity": 1}}
          }
        }
      ],
      "resolve": {"scale": {"shape": "independent", "stroke": "independent", "fill": "independent", "strokeWidth": "independent"}}
    }
  ],
  "resolve": {"scale": {"y": "independent"}}
}
